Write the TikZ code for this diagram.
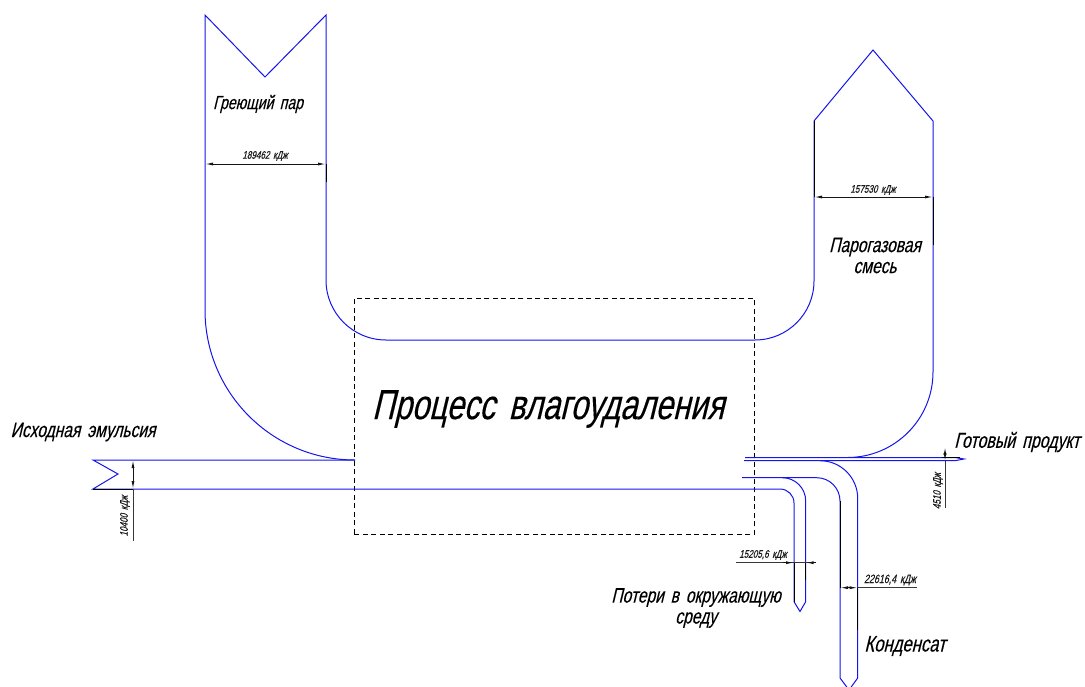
\documentclass[tikz,border=0pt]{standalone}
\usepackage{fontspec}
\setmainfont[FakeStretch=0.74,FakeSlant=0.24,FakeBold=0.25,WordSpace=1.6]{Liberation Sans}
\usepackage{tikz}
\usetikzlibrary{arrows.meta,positioning,calc}
\definecolor{flowblue}{RGB}{20,20,235}
\definecolor{dimgray}{RGB}{20,20,20}

\begin{document}
\begin{tikzpicture}[
      x=1pt, y=-1pt,
      flow/.style={draw=flowblue, line width=1pt},
      ext/.style={draw=black, line width=1pt},
      dimline/.style={draw=dimgray, line width=1pt, {Latex[length=8pt,width=3pt]}-{Latex[length=8pt,width=3pt]}},
      leader/.style={draw=dimgray!85, line width=1pt},
      lbl/.style={font=\fontsize{21}{21}\selectfont, align=center, inner sep=0pt, text=black},
      dimlbl/.style={font=\fontsize{11}{12}\selectfont, inner sep=0pt, text=black!90}
    ]
    \useasboundingbox (0,0) rectangle (1085,686);
    % BOX: process border
    \node[draw, dashed, line width=0.8pt, dash pattern=on 5pt off 3.5pt, minimum width=400pt, minimum height=236pt,
          inner sep=0pt, anchor=north west] (proc) at (354,298) {};
    \node[font=\fontsize{42}{44}\selectfont, inner sep=0pt, text=black] (proctxt) at (548,409) {Процесс влагоудаления};
    % TOP LEFT: heating steam
    \draw[flow] (355,460) arc[start angle=90, end angle=180, radius=150] -- (205,15) -- (265,77) -- (326,15) -- (326,280)
      arc[start angle=180, end angle=90, radius=60] -- (755,340)
      arc[start angle=90, end angle=0, radius=59] -- (814,121) -- (873,50) -- (933,121) -- (933,372)
      arc[start angle=0, end angle=90, radius=85.5] -- (745,457.5);
    % LEFT: feed emulsion
    \draw[flow] (355,460) -- (93,460) -- (118,474) -- (93,489) -- (780,489)
      arc[start angle=270, end angle=360, radius=14] -- (794,601.7) -- (800,611.5) -- (805.7,601.7) -- (805.7,501)
      arc[start angle=0, end angle=-90, radius=23.3] -- (742,477.7);
    % RIGHT: product and condensate
    \draw[flow] (744,460.7) -- (955,460.7) -- (964,459) -- (955,457.5) -- (848,457.5);
    \draw[flow] (820,460.7) arc[start angle=270, end angle=360, radius=37.7] -- (857.7,678) -- (849,690) -- (840,678) -- (840,501)
      arc[start angle=0, end angle=-90, radius=23.3] -- (782,477.7);
    % extension lines over the flows
    \draw[ext] (326,164) -- (326,182);
    \draw[ext] (814,121) -- (814,197);
    \draw[ext] (933,197) -- (933,245);
    \draw[ext] (794,563) -- (794,601.7);
    \draw[ext] (805.7,563) -- (805.7,580);
    \draw[ext] (840,501) -- (840,587.7);
    \draw[ext] (857.7,587.7) -- (857.7,630);
    \draw[ext] (93,489) -- (133,489);
    % DIMENSIONS
    \coordinate (d1a) at (205,164);
    \coordinate (d1b) at (326,164);
    \draw[dimline] (d1a) -- (d1b);
    \node[dimlbl] (d1) at (265,156) {189462 кДж};
    \coordinate (d2a) at (814,197);
    \coordinate (d2b) at (933,197);
    \draw[dimline] (d2a) -- (d2b);
    \node[dimlbl] (d2) at (873,190) {157530 кДж};
    \coordinate (d3a) at (133,460);
    \coordinate (d3b) at (133,489);
    \coordinate (d3c) at (133,541);
    \draw[dimline] (d3a) -- (d3b);
    \draw[leader] (d3b) -- (d3c);
    \node[dimlbl, rotate=90] (d3) at (125,516) {10400 кДж};
    \coordinate (d4a) at (945,447);
    \coordinate (d4b) at (945,461);
    \coordinate (d4c) at (945,508);
    \draw[dimline] (d4a) -- (d4b);
    \draw[leader] (d4b) -- (d4c);
    \draw[ext] (942,457.5) -- (960,457.5);
    \node[dimlbl, rotate=90] (d4) at (938,491) {4510 кДж};
    \coordinate (d5a) at (736,562.7);
    \coordinate (d5b) at (794,562.7);
    \coordinate (d5c) at (805.7,562.7);
    \coordinate (d5d) at (816,562.7);
    \draw[leader] (d5a) -- (d5d);
    \draw[dimline, {Latex[length=8pt,width=3pt]}-] (d5b) -- ++(-11,0);
    \draw[dimline, {Latex[length=8pt,width=3pt]}-] (d5c) -- (d5d);
    \node[dimlbl] (d5) at (763,555) {15205,6 кДж};
    \coordinate (d6a) at (840,587.7);
    \coordinate (d6b) at (857.7,587.7);
    \coordinate (d6c) at (917,587.7);
    \draw[dimline] (d6a) -- (d6b);
    \draw[leader] (d6b) -- (d6c);
    \node[dimlbl, font=\fontsize{12}{13}\selectfont] (d6) at (890,580) {22616,4 кДж};
    % LABELS
    \node[lbl, font=\fontsize{19}{21}\selectfont] (heat) at (258,104) {Греющий пар};
    \node[lbl] (vapor) at (875,255.5) {Парогазовая\\смесь};
    \node[lbl] (feed) at (83,432) {Исходная эмульсия};
    \node[lbl, font=\fontsize{21.5}{24}\selectfont] (prod) at (1017,442) {Готовый продукт};
    \node[lbl] (loss) at (696,608) {Потери в окружающую\\среду};
    \node[lbl, font=\fontsize{22.5}{24}\selectfont] (cond) at (905,646) {Конденсат};
  \end{tikzpicture}
\end{document}
